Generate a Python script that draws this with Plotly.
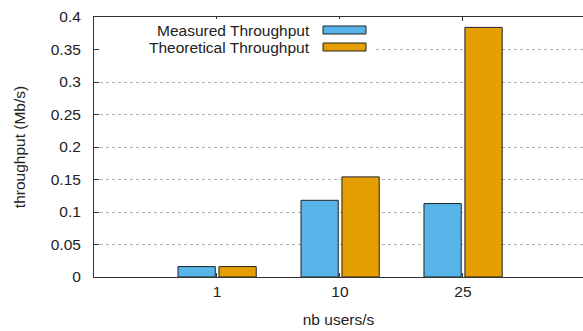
import plotly.graph_objects as go

categories = ["1", "10", "25"]
measured = [0.016, 0.118, 0.113]
theoretical = [0.016, 0.154, 0.384]
series_names = ["Measured Throughput", "Theoretical Throughput"]
series_colors = ["#56B4E9", "#E69F00"]
y_ticks = [0, 0.05, 0.1, 0.15, 0.2, 0.25, 0.3, 0.35, 0.4]
y_ticktext = ["0", "0.05", "0.1", "0.15", "0.2", "0.25", "0.3", "0.35", "0.4"]

W, H = 583, 331
ML, MR, MT, MB = 94, 0, 17, 54
PW, PH = W - ML - MR, H - MT - MB
FONT = "Liberation Sans, Arial, sans-serif"
FS = 15.5
TXT = "#222222"

fig = go.Figure()
fig.add_trace(go.Bar(x=categories, y=measured, name=series_names[0],
                     marker=dict(color=series_colors[0], line=dict(color="#222", width=1)),
                     offset=-0.317, width=0.303, showlegend=False))
fig.add_trace(go.Bar(x=categories, y=theoretical, name=series_names[1],
                     marker=dict(color=series_colors[1], line=dict(color="#222", width=1)),
                     offset=0.016, width=0.303, showlegend=False))

def px_x(p):
    return (p - ML) / PW

def px_y(p):
    return (H - MB - p) / PH

shapes = []
shapes.append(dict(type="rect", xref="paper", yref="paper",
                   x0=px_x(100), x1=px_x(374), y0=px_y(56), y1=px_y(19),
                   fillcolor="white", line=dict(width=0), layer="above"))
annotations = []
rows_y = [30, 47]
for name, col, ry in zip(series_names, series_colors, rows_y):
    shapes.append(dict(type="rect", xref="paper", yref="paper",
                       x0=px_x(323), x1=px_x(366), y0=px_y(ry + 4), y1=px_y(ry - 4),
                       fillcolor=col, line=dict(color="#222", width=1), layer="above"))
    annotations.append(dict(xref="paper", yref="paper", x=px_x(312), y=px_y(ry),
                            xanchor="right", yanchor="middle", text=name, showarrow=False,
                            font=dict(family=FONT, size=FS, color=TXT)))

fig.update_layout(
    width=W, height=H,
    margin=dict(l=ML, r=MR, t=MT, b=MB, pad=0),
    paper_bgcolor="white", plot_bgcolor="white",
    barmode="overlay",
    font=dict(family=FONT, size=FS, color=TXT),
    shapes=shapes, annotations=annotations,
    showlegend=False,
)
fig.update_xaxes(
    type="category", range=[-1, 2.976],
    showline=True, linecolor="#333", linewidth=1, mirror="ticks",
    ticks="inside", ticklen=4, tickcolor="#333",
    showgrid=False, zeroline=False,
    title=dict(text="nb users/s", standoff=15, font=dict(family=FONT, size=FS, color=TXT)),
    tickfont=dict(family=FONT, size=FS, color=TXT),
)
fig.update_yaxes(
    range=[0, 0.4], tickvals=y_ticks, ticktext=y_ticktext,
    showline=True, linecolor="#333", linewidth=1,
    ticks="inside", ticklen=5, tickcolor="#333",
    showgrid=True, gridcolor="#b0b0b0", griddash="dot", gridwidth=1,
    zeroline=False, ticklabelstandoff=9,
    title=dict(text="throughput (Mb/s)", standoff=21, font=dict(family=FONT, size=FS, color=TXT)),
    tickfont=dict(family=FONT, size=FS, color=TXT),
)

fig.write_html("out.html")
